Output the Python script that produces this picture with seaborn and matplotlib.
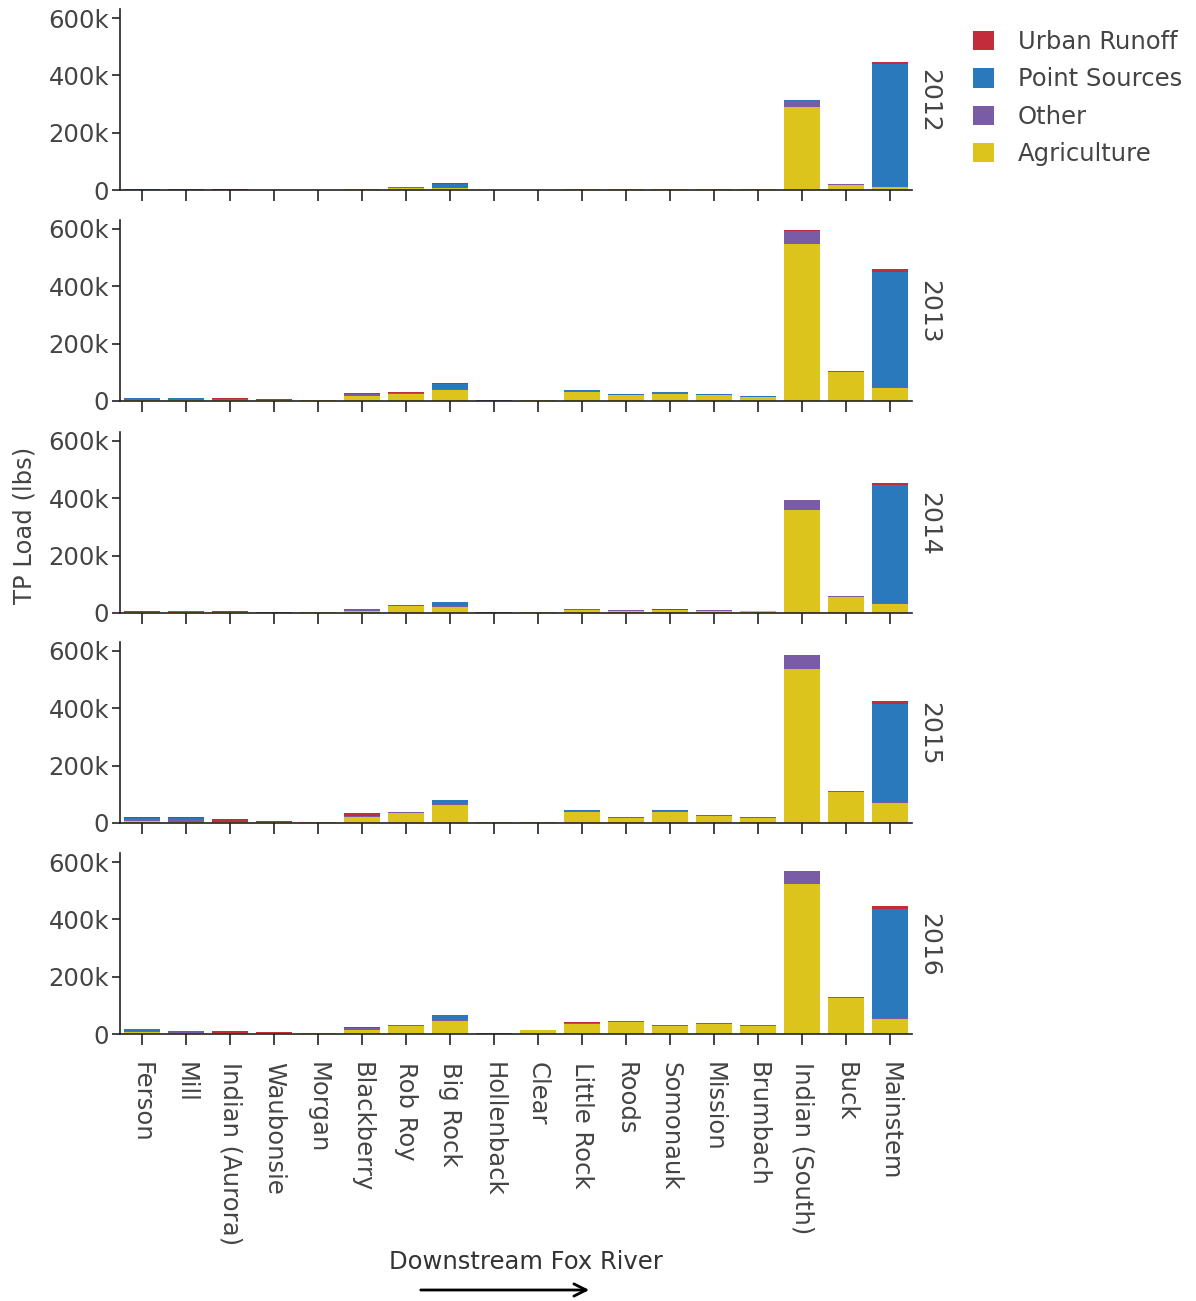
import matplotlib
matplotlib.use("Agg")
import matplotlib.pyplot as plt
from matplotlib.patches import Patch, FancyArrowPatch
import seaborn as sns
import pandas as pd
import numpy as np

sns.set_theme(style="white")
plt.rcParams["font.family"] = ["DejaVu Sans"]

# Tributaries ordered downstream along the Fox River
watersheds = ["Ferson", "Mill", "Indian (Aurora)", "Waubonsie", "Morgan", "Blackberry",
              "Rob Roy", "Big Rock", "Hollenback", "Clear", "Little Rock", "Roods",
              "Somonauk", "Mission", "Brumbach", "Indian (South)", "Buck", "Mainstem"]
years = ["2012", "2013", "2014", "2015", "2016"]
sources = ["Agriculture", "Other", "Point Sources", "Urban Runoff"]

# TP loads in thousands of lbs, one list per source and year
agriculture = {
    "2012": [1, 1, 0.5, 0.5, 0.5, 2, 8, 6, 0.3, 0.5, 2, 2, 2, 2, 2, 290, 19, 10],
    "2013": [4, 4, 3, 2, 2, 18, 25, 38, 1.5, 3, 32, 20, 26, 20, 14, 548, 100, 45],
    "2014": [2, 2, 2, 1.5, 2, 8, 24, 22, 1.5, 2, 12, 8, 10, 8, 7, 360, 57, 31],
    "2015": [6, 5, 2, 2, 4, 22, 34, 63, 2.5, 3.5, 40, 19, 40, 25, 19, 537, 108, 70],
    "2016": [6, 4, 2, 2, 3, 15, 28, 47, 1.5, 13, 34, 43, 28, 35, 28, 523, 126, 52],
}
other = {
    "2012": [0.5, 1, 0.5, 0.5, 0.2, 1, 1, 1, 0.1, 0.2, 1, 0.5, 0.5, 0.5, 0.5, 22, 1, 2],
    "2013": [4, 4, 2, 2, 0.5, 5, 3, 3, 0.5, 1, 4, 2, 3, 2, 1.5, 45, 2, 5],
    "2014": [2, 2, 2, 1.5, 0.3, 4, 2, 1, 0.3, 0.5, 2, 1.5, 1.5, 1.5, 1, 33, 2, 3],
    "2015": [8, 5, 2, 1.5, 0.5, 3, 3, 2, 0.5, 0.5, 3, 2, 3, 2, 2, 48, 3, 3],
    "2016": [6, 3, 2, 2, 0.3, 5, 2, 2, 0.3, 1, 3, 2, 2, 3, 2, 45, 2, 3],
}
point_sources = {
    "2012": [0.3, 0.5, 0.3, 0.3, 0, 0.5, 0.5, 15, 0, 0, 0.5, 0.3, 0.3, 0.3, 0.3, 1, 0.5, 426],
    "2013": [2, 2, 1, 1, 0, 1, 1, 20, 0, 0, 2, 1, 1, 1, 0.5, 1, 1, 400],
    "2014": [1, 1.5, 1, 1, 0, 0.5, 0.5, 15, 0, 0, 1, 0.5, 0.5, 0.5, 0.3, 1, 0.5, 411],
    "2015": [4, 9, 0.5, 0.5, 0, 0.5, 2, 14, 0, 0, 2, 0.5, 1, 0.5, 0.5, 1, 1, 343],
    "2016": [4, 2, 1, 1, 0, 0.5, 1, 16, 0, 0.5, 3, 0.5, 0.5, 0.5, 0.5, 1, 0.5, 381],
}
urban_runoff = {
    "2012": [0.3, 0.5, 0.5, 0.3, 0, 0.3, 0.3, 1, 0, 0, 0.3, 0.2, 0.2, 0.2, 0.2, 1, 0.3, 8],
    "2013": [2, 1, 3, 1, 0, 3, 1, 2, 0, 0, 0.5, 0.5, 0.5, 0.5, 0.3, 1, 1, 10],
    "2014": [1, 1, 3, 1, 0, 3, 0.5, 1, 0, 0, 0.3, 0.3, 0.3, 0.3, 0.2, 1, 0.5, 8],
    "2015": [2, 1, 8, 4, 0, 9, 0.5, 1, 0, 0, 0.5, 0.3, 0.5, 0.3, 0.3, 1, 0.5, 10],
    "2016": [1, 1, 5, 3, 0, 5, 0.5, 1, 0, 0, 0.5, 0.3, 0.3, 0.3, 0.3, 1, 0.5, 10],
}

colors = {
    "Urban Runoff": "#c22d3c",
    "Point Sources": "#2b79bd",
    "Other": "#7a5ba6",
    "Agriculture": "#dcc41c",
}

rows = []
for yr in years:
    for i, ws in enumerate(watersheds):
        for src, table in zip(sources, [agriculture, other, point_sources, urban_runoff]):
            rows.append({"year": yr, "watershed": ws, "source": src, "load": table[yr][i] * 1000})
df = pd.DataFrame(rows)

W, H = 1196, 1301
fig = plt.figure(figsize=(W / 100, H / 100), dpi=100)

left, right = 120, 912
bottoms = [190, 401, 613, 823, 1034]
ymax = 630000
px_per_unit = 172 / 600000
panel_h = ymax * px_per_unit

axis_color = "#222222"
text_color = "#444444"

for k, yr in enumerate(years):
    b = bottoms[k]
    ax = fig.add_axes([left / W, 1 - b / H, (right - left) / W, panel_h / H])
    sub = df[df["year"] == yr].pivot(index="watershed", columns="source", values="load").loc[watersheds]
    cum = sub[sources].cumsum(axis=1)
    # draw the stacked totals from the top layer downward so each layer covers the next
    for src in reversed(sources):
        d = pd.DataFrame({"watershed": watersheds, "load": cum[src].values})
        sns.barplot(data=d, x="watershed", y="load", order=watersheds, color=colors[src],
                    saturation=1, width=0.8, errorbar=None, linewidth=0, ax=ax)
    ax.set_xlim(-0.5, len(watersheds) - 0.5)
    ax.set_ylim(0, ymax)
    ax.set_xlabel("")
    ax.set_ylabel("")
    ax.set_yticks([0, 200000, 400000, 600000])
    ax.set_yticklabels(["0", "200k", "400k", "600k"])
    for s in ["top", "right"]:
        ax.spines[s].set_visible(False)
    for s in ["left", "bottom"]:
        ax.spines[s].set_color(axis_color)
        ax.spines[s].set_linewidth(1.2)
    ax.tick_params(axis="y", direction="out", length=6, width=1.2, color=axis_color,
                   labelsize=17.5, labelcolor=text_color, pad=2, left=True)
    ax.tick_params(axis="x", direction="out", length=8, width=1.2, color=axis_color,
                   labelsize=17.5, labelcolor=text_color, pad=12, bottom=True)
    if k < len(years) - 1:
        ax.set_xticklabels([])
    else:
        ax.set_xticklabels(watersheds, rotation=270, ha="center", va="top")
    ax.patch.set_alpha(0)
    # facet label on the right
    fig.text(929 / W, 1 - (b - 89) / H, yr, rotation=270, ha="center", va="center",
             fontsize=18, color=text_color)

fig.text(25 / W, 1 - 525 / H, "TP Load (lbs)", rotation=90, ha="center", va="center",
         fontsize=17.5, color=text_color)

handles = [Patch(facecolor=colors[s], edgecolor="none") for s in reversed(sources)]
fig.legend(handles, list(reversed(sources)), loc="upper left",
           bbox_to_anchor=(951 / W, 1 - 8 / H), frameon=False, fontsize=17.5,
           handlelength=0.85, handleheight=0.85, handletextpad=1.0, labelspacing=0.55,
           labelcolor=text_color)

fig.text(526 / W, 1 - 1262 / H, "Downstream Fox River", ha="center", va="center",
         fontsize=17.5, color="#333333")
arrow = FancyArrowPatch((418 / W, 1 - 1290 / H), (592 / W, 1 - 1290 / H),
                        transform=fig.transFigure, arrowstyle="->", mutation_scale=22,
                        color="black", linewidth=2)
fig.patches.append(arrow)

fig.savefig("out.png", dpi=100, facecolor="white")
